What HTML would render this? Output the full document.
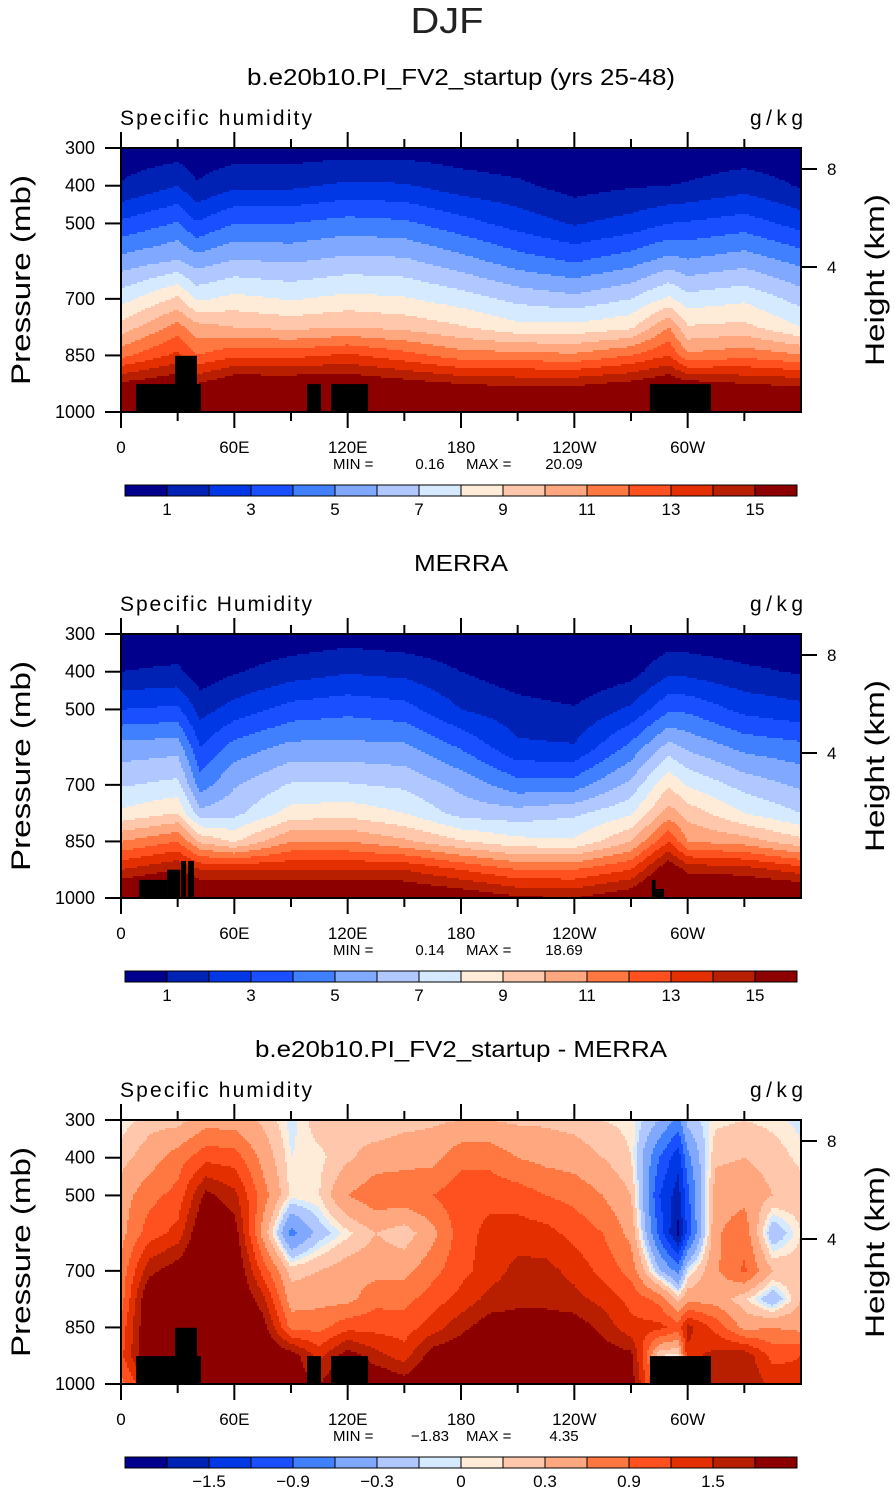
<!DOCTYPE html>
<html><head><meta charset="utf-8"><style>
html,body{margin:0;padding:0;background:#fff;}
svg{display:block;font-family:"Liberation Sans",sans-serif;}
</style></head><body>
<svg id="fig" width="895" height="1493" viewBox="0 0 895 1493" xmlns="http://www.w3.org/2000/svg">
<text x="447" y="33" text-anchor="middle" font-size="36" fill="#222" textLength="73" lengthAdjust="spacingAndGlyphs">DJF</text>
</svg>
<script>
// ---- data ----
const pLevels = [300,400,500,600,700,775,850,925,1000];
const qLevels = [1,2,3,4,5,6,7,8,9,10,11,12,13,14,15];
const qLabels = ["1","3","5","7","9","11","13","15"];
const dLevels = [-1.8,-1.5,-1.2,-0.9,-0.6,-0.3,-0.1,0,0.1,0.3,0.6,0.9,1.2,1.5,1.8];
const dLabels = ["−1.5","−0.9","−0.3","0","0.3","0.9","1.5"];
const palette = ["#00008c","#0022b4","#0038e6","#1a4fff","#4080ff","#80a8ff","#b0c8ff","#d6eaff","#ffecd8","#ffc8ac","#ffa880","#ff7842","#ff5020","#e43000","#b81e00","#8c0000"];
const xTickLabels = ["0","60E","120E","180","120W","60W"];
const yTickLabels = [300,400,500,700,850,1000];

const m1Lons = [0,30,40,60,90,120,150,180,210,240,270,290,300,330,360];
const m1Vals = [
 [0.3,1.1,3.2,5.4,7.6,9.4,11.7,15.2,18],
 [0.4,2,4.1,6.1,9.2,11.4,13.3,16,18],
 [0.3,1.1,3.1,5.5,7.8,10.4,12,15,18],
 [0.4,1.8,4,6.1,8.3,10,12.8,16,18],
 [0.4,1.8,4,5.9,7.9,9.7,12.7,16,18],
 [0.5,2.2,4.4,6.3,8.3,10,13.2,16,18],
 [0.5,2.1,4.2,6.2,8.1,9.7,12.4,15.5,18],
 [0.4,1.5,3.4,5.4,7.5,9.1,11.5,15,17],
 [0.2,1.2,2.6,4.5,6.7,8.3,11.4,14.8,17],
 [0.1,0.6,1.9,3.9,6.3,8.3,11.2,14.8,17],
 [0.2,0.9,2.4,4.6,7,8.8,12,15.3,18],
 [0.2,1,3,5.4,8.2,11,13,16,18],
 [0.2,1.1,3.1,5.1,7.4,9.1,11.2,15.5,18],
 [0.3,1.6,3.5,5.6,7.8,9.3,11.7,15,17],
 [0.2,0.9,2.6,4.7,6.6,8,11.1,14.8,17]
];
const m2Lons = [0,30,42,60,90,120,150,180,210,240,270,290,300,330,360];
const m2Vals = [
 [0.2,1,3,5.4,6.9,8.2,11,14,17],
 [0.2,1.2,3.2,5.6,7.3,9,12,15,18],
 [0,0.4,1.6,3,4.5,6.3,9.8,14,17],
 [0.2,0.9,2.4,4.4,5.9,6.7,8.9,14,17],
 [0.3,1.5,3.4,5.3,7.1,8.4,11,14,17],
 [0.5,1.9,3.7,5.3,7.1,8.6,11,14,17],
 [0.3,1.7,3.4,5.2,6.8,8,10.2,14,16.5],
 [0.2,1,2,3.9,5.7,6.6,9.1,13,16],
 [0,0.4,1.4,2.2,4.4,6.4,8.3,12,15.2],
 [0,0.1,1.1,2.1,4.5,6.8,8.2,12,15],
 [0,0.6,2.2,4.3,6.3,7.8,10,13,16],
 [0.3,1.8,3.8,6.4,8.9,10.5,13,16,18],
 [0.3,1.7,3.8,5.8,7.9,9.6,11,14.7,17],
 [0.2,1.2,2.7,4.7,6.6,8,10.5,14.5,17],
 [0.2,0.9,2.3,4.3,5.8,7,9.3,13.5,17]
];
const dLons = [0,15,30,45,60,75,90,105,120,135,150,165,180,195,210,225,240,255,270,285,295,300,315,330,345,360];
const dVals = [
 [0,0.2,0.45,0.5,0.7,0.75,1.0,1.1,0.8],
 [0.2,0.45,0.8,1.05,1.7,2.2,2.2,2.2,1.5],
 [0.2,0.75,1.0,1.3,2.0,2.2,2.2,2.2,2.2],
 [0.45,1.1,1.9,2.3,2.3,2.3,2.3,2.3,2.3],
 [0.45,1.05,1.6,2.0,2.2,2.3,2.3,2.3,2.3],
 [0.25,0.5,0.75,0.5,1.1,1.6,2.0,2.2,2.2],
 [-0.05,0,0.05,-0.7,0.2,0.45,0.8,2.0,2.0],
 [0.2,0.05,0.1,-0.2,0.3,0.5,0.8,1.4,1.8],
 [0.2,0.25,0.6,0.05,0.45,0.5,1.1,2.0,2.2],
 [0.1,0.45,0.8,0.3,0.5,0.8,1.1,1.6,2.2],
 [0.2,0.5,0.8,0.15,0.5,0.8,1.05,1.35,2.0],
 [0.25,0.5,0.9,0.5,0.8,1.05,1.35,2.0,2.2],
 [0.3,0.8,1.1,1.05,1.1,1.3,1.7,2.1,2.3],
 [0.3,0.8,1.1,1.3,1.35,1.6,2.0,2.3,2.3],
 [0.25,0.6,1.05,1.35,1.6,1.7,2.0,2.3,2.3],
 [0.25,0.5,0.9,1.3,1.6,1.7,2.0,2.3,2.3],
 [0.2,0.45,0.8,1.1,1.4,1.6,2.0,2.2,2.3],
 [0.1,0.3,0.6,0.9,1.1,1.4,1.7,2.0,2.2],
 [0.05,0.1,0.3,0.5,0.8,1.1,1.3,1.9,2.0],
 [-0.3,-0.9,-1.2,-1.0,-0.25,0.8,1.3,0.1,0.5],
 [-0.7,-1.4,-1.65,-1.9,-0.7,0.2,1.05,0,1.0],
 [-0.2,-0.7,-1.0,-1.1,-0.05,0.5,1.6,1.4,1.2],
 [0.05,0.25,0.45,0.55,0.55,0.45,1.1,1.6,1.7],
 [0.1,0.3,0.5,0.8,0.95,0.15,0.5,1.7,1.8],
 [0.05,0.2,0.3,-0.3,0.3,-0.3,0.6,1.1,1.4],
 [-0.05,0.05,0.2,0.1,0.2,0.3,0.5,1.2,1.3]
];
// terrain blocks: [lonStart, lonEnd, topPressure]
const terrainModel = [[8,42.3,926],[28.6,40.2,851],[98.5,105.9,926],[111.2,130.8,926],[280,312.3,926]];
const terrainObs = [[9.5,24.4,952],[24.4,31.2,925],[31.8,34.4,902],[35.5,38.6,902],[281,283,952],[283,287.5,976]];

// ---- drawing ----
const NS = "http://www.w3.org/2000/svg";
const svg = document.getElementById("fig");
const X0 = 121, W = 680, H = 264;
function xOf(lon){ return X0 + lon / 360 * W; }
function yOf(p, y0){ return y0 + (p - 300) / 700 * H; }
function mk(tag, attrs, parent){
  const e = document.createElementNS(NS, tag);
  for (const k in attrs) e.setAttribute(k, attrs[k]);
  (parent || svg).appendChild(e);
  return e;
}
function interp(lons, vals, lon, p){
  let i = 0;
  while (i < lons.length - 2 && lon > lons[i+1]) i++;
  const tx = Math.max(0, Math.min(1, (lon - lons[i]) / (lons[i+1] - lons[i])));
  let j = 0;
  while (j < pLevels.length - 2 && p > pLevels[j+1]) j++;
  const ty = Math.max(0, Math.min(1, (p - pLevels[j]) / (pLevels[j+1] - pLevels[j])));
  const a = vals[i][j]*(1-ty) + vals[i][j+1]*ty;
  const b = vals[i+1][j]*(1-ty) + vals[i+1][j+1]*ty;
  return a*(1-tx) + b*tx;
}
function bin(v, levels){
  let k = 0;
  while (k < levels.length && v >= levels[k]) k++;
  return k;
}
function drawField(name, lons, vals, levels, y0){
  const g = mk("g", {});
  
  
  const step = 2;
  for (let ry = 0; ry < H; ry += step){
    const p = 300 + (ry + step/2) / H * 700;
    let runStart = 0, runC = -1;
    for (let rx = 0; rx <= W; rx += step){
      let c = -2;
      if (rx < W){
        const lon = (rx + step/2) / W * 360;
        c = bin(interp(lons, vals, lon, p), levels);
      }
      if (c !== runC){
        if (runC >= 0){
          const r = mk("rect", {x: X0 + runStart, y: y0 + ry, width: rx - runStart + 0.6, height: step + 0.6, fill: palette[runC]}, g);
          
          
        }
        runStart = rx; runC = c;
      }
    }
  }
}
function drawTerrain(blocks, y0){
  for (const b of blocks){
    const r = mk("rect", {x: xOf(b[0]), y: yOf(b[2], y0), width: xOf(b[1]) - xOf(b[0]), height: y0 + H - yOf(b[2], y0), fill: "#000"});
    
    
  }
}
function text(str, x, y, size, anchor, name, extra){
  const t = mk("text", Object.assign({x: x, y: y, "font-size": size, "text-anchor": anchor || "start", fill: "#000"}, extra || {}));
  t.textContent = str;
  
  
  return t;
}
function drawAxes(y0, idx){
  const g = mk("g", {stroke: "#000", "stroke-width": 2, fill: "none"});
  
  
  mk("rect", {x: X0, y: y0, width: W, height: H}, g);
  for (let lon = 0; lon <= 360; lon += 30){
    const major = lon % 60 === 0;
    const len = major ? 16 : 9;
    const x = xOf(lon);
    if (lon < 360){
      mk("line", {x1: x, y1: y0, x2: x, y2: y0 - len}, g);
      mk("line", {x1: x, y1: y0 + H, x2: x, y2: y0 + H + len}, g);
    }
  }
  yTickLabels.forEach(function(p){
    const y = yOf(p, y0);
    mk("line", {x1: X0, y1: y, x2: X0 - 16, y2: y}, g);
    text(String(p), 95, y + 6, 18, "end", "y-tick-label");
  });
  xTickLabels.forEach(function(l, i){
    text(l, xOf(i*60), y0 + H + 41, 17, "middle", "x-tick-label");
  });
  [[8,21],[4,119]].forEach(function(h){
    mk("line", {x1: X0 + W, y1: y0 + h[1], x2: X0 + W + 16, y2: y0 + h[1]}, g);
    text(String(h[0]), 827, y0 + h[1] + 6, 17, "start", "height-tick-label");
  });
  text("Pressure (mb)", 0, 0, 27, "middle", "y-axis-title", {transform: "translate(30," + (y0 + 132) + ") rotate(-90)", textLength: 210, lengthAdjust: "spacingAndGlyphs"});
  text("Height (km)", 0, 0, 27, "middle", "right-axis-title", {transform: "translate(884," + (y0 + 132) + ") rotate(-90)", textLength: 172, lengthAdjust: "spacingAndGlyphs"});
}
function drawColorbar(y, labels, levels, name){
  const g = mk("g", {});
  
  
  palette.forEach(function(c, k){
    const r = mk("rect", {x: 125 + 42*k, y: y, width: 42, height: 11, fill: c, stroke: "#000", "stroke-width": 1}, g);
    
    
  });
  labels.forEach(function(l){
    const v = parseFloat(l.replace("−","-"));
    const k = levels.indexOf(v);
    text(l, 125 + 42*(k+1), y + 30, 17, "middle", "colorbar-label");
  });
}
const panels = [
  {y0: 148, title: "b.e20b10.PI_FV2_startup (yrs 25-48)", tl: 428, tx: 461, sub: "Specific humidity", lons: m1Lons, vals: m1Vals, levels: qLevels, terr: terrainModel, labels: qLabels, min: "0.16", max: "20.09"},
  {y0: 634, title: "MERRA", tl: 94, tx: 461, sub: "Specific Humidity", lons: m2Lons, vals: m2Vals, levels: qLevels, terr: terrainObs, labels: qLabels, min: "0.14", max: "18.69"},
  {y0: 1120, title: "b.e20b10.PI_FV2_startup - MERRA", tl: 412, tx: 461, sub: "Specific humidity", lons: dLons, vals: dVals, levels: dLevels, terr: terrainModel, labels: dLabels, min: "−1.83", max: "4.35"}
];
panels.forEach(function(pn, i){
  drawField("contour-field-" + (i+1), pn.lons, pn.vals, pn.levels, pn.y0);
  drawTerrain(pn.terr, pn.y0);
  drawAxes(pn.y0, i+1);
  text(pn.title, pn.tx, pn.y0 - 63, 23, "middle", "panel-title", {textLength: pn.tl, lengthAdjust: "spacingAndGlyphs"});
  text(pn.sub, 120, pn.y0 - 23, 21, "start", "variable-label", {textLength: 192, lengthAdjust: "spacing"});
  text("g/kg", 803, pn.y0 - 23, 21, "end", "units-label", {textLength: 53, lengthAdjust: "spacing"});
  text("MIN =", 333, pn.y0 + H + 57, 15, "start", "min-label");
  text(pn.min, 430, pn.y0 + H + 57, 15, "middle", "min-value");
  text("MAX =", 466, pn.y0 + H + 57, 15, "start", "max-label");
  text(pn.max, 564, pn.y0 + H + 57, 15, "middle", "max-value");
  drawColorbar(pn.y0 + 337, pn.labels, pn.levels, "colorbar-" + (i+1));
});
</script>
</body></html>
